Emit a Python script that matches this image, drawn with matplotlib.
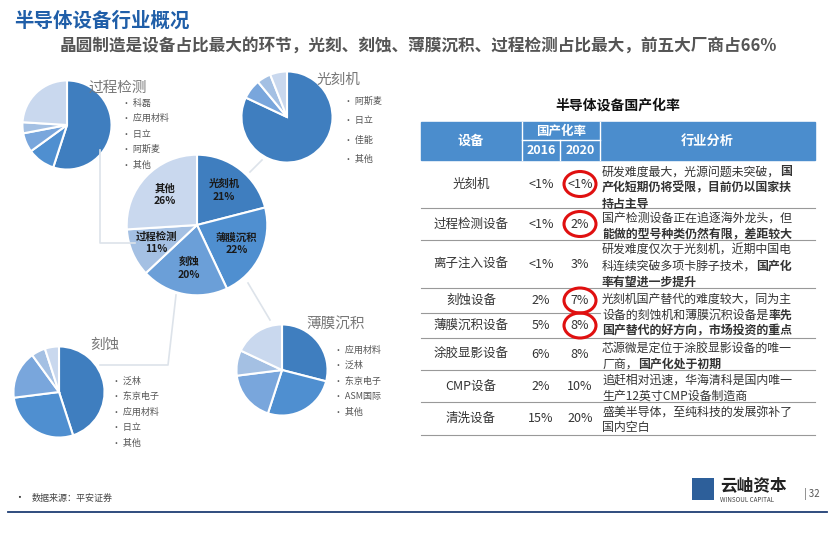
import matplotlib
matplotlib.use("Agg")
import matplotlib.pyplot as plt
from matplotlib.patches import Rectangle, Ellipse
import numpy as np

plt.rcParams['font.family'] = ['Noto Sans CJK SC', 'DejaVu Sans']

W, H = 835, 539
fig = plt.figure(figsize=(W/100, H/100), dpi=100)
bg = fig.add_axes([0, 0, 1, 1])
bg.set_xlim(0, W); bg.set_ylim(H, 0); bg.axis('off')

# ---------- data ----------
main_labels = ['光刻机', '薄膜沉积', '刻蚀', '过程检测', '其他']
main_values = [21, 22, 20, 11, 26]
main_colors = ['#3f7ebf', '#4f8fd0', '#6b9fd8', '#a4c0e3', '#c9d8ee']

sub_colors = ['#3f7ebf', '#4f8fd0', '#79a6dc', '#a4c0e3', '#c9d8ee']
insp_labels = ['科磊', '应用材料', '日立', '阿斯麦', '其他']
insp_values = [55, 10, 7, 4, 24]
litho_labels = ['阿斯麦', '日立', '佳能', '其他']
litho_values = [82, 7, 5, 6]
etch_labels = ['泛林', '东京电子', '应用材料', '日立', '其他']
etch_values = [45, 28, 17, 5, 5]
dep_labels = ['应用材料', '泛林', '东京电子', 'ASM国际', '其他']
dep_values = [29, 26, 18, 9, 18]

tbl_equip = ['光刻机', '过程检测设备', '离子注入设备', '刻蚀设备', '薄膜沉积设备',
             '涂胶显影设备', 'CMP设备', '清洗设备']
rate_2016 = ['<1%', '<1%', '<1%', '2%', '5%', '6%', '2%', '15%']
rate_2020 = ['<1%', '2%', '3%', '7%', '8%', '8%', '10%', '20%']
circled = [0, 1, 3, 4]

# ---------- titles ----------
bg.text(14, 21, '半导体设备行业概况', fontsize=14, fontweight='bold', color='#1f5ea8', va='center')
bg.text(418, 46, '晶圆制造是设备占比最大的环节，光刻、刻蚀、薄膜沉积、过程检测占比最大，前五大厂商占66%',
        fontsize=12, fontweight='bold', color='#555555', va='center', ha='center')

# connectors
cc = '#dde3ea'
bg.plot([100, 100, 135], [150, 243, 243], color=cc, lw=1.2)
bg.plot([250, 262], [172, 160], color=cc, lw=1.2)
bg.plot([176, 168, 100], [295, 365, 365], color=cc, lw=1.2)
bg.plot([248, 270], [283, 320], color=cc, lw=1.2)

def pie_at(cx, cy, r, vals, cols):
    ax = fig.add_axes([(cx-r)/W, 1-(cy+r)/H, 2*r/W, 2*r/H])
    ax.pie(vals, colors=cols, startangle=90, counterclock=False,
           wedgeprops=dict(edgecolor='white', linewidth=1.5))
    ax.set_aspect('auto'); ax.set_xlim(-1.01, 1.01); ax.set_ylim(-1.01, 1.01); ax.axis('off')
    return ax

pie_at(67, 125, 45, insp_values, sub_colors)
pie_at(287, 117, 46, litho_values, [sub_colors[0], sub_colors[2], sub_colors[3], sub_colors[4]])
pie_at(59, 392, 46, etch_values, sub_colors)
pie_at(282, 370, 46, dep_values, sub_colors)
axm = pie_at(197, 225, 71, main_values, main_colors)

ang = 90
for lab, v in zip(main_labels, main_values):
    mid = np.deg2rad(ang - v*3.6/2)
    ang -= v*3.6
    x = 197 + 44*np.cos(mid); y = 225 - 44*np.sin(mid)
    bg.text(x, y, f'{lab}\n{v}%', ha='center', va='center', fontsize=7.5,
            fontweight='bold', color='#1a1a1a', linespacing=1.3, zorder=10)
bg.set_zorder(5); bg.patch.set_alpha(0)

def sub_title(x, y, t):
    bg.text(x, y, t, fontsize=10.5, color='#777777', va='center')

def legend(x, y, labs, step=15.5):
    for i, l in enumerate(labs):
        bg.text(x, y + i*step, '• ' + l, fontsize=6.5, color='#555555', va='center')

sub_title(88, 88, '过程检测'); legend(122, 103, insp_labels)
sub_title(316, 80, '光刻机'); legend(344, 101, litho_labels, 19.5)
sub_title(90, 345, '刻蚀'); legend(112, 381, etch_labels)
sub_title(306, 325, '薄膜沉积'); legend(334, 350, dep_labels)

# ---------- table ----------
bg.text(618, 106, '半导体设备国产化率', fontsize=10, fontweight='bold', ha='center', va='center', color='#111111')
hx0, hx1 = 421, 815
bg.add_patch(Rectangle((hx0, 122), hx1-hx0, 38, color='#4b8dcd', zorder=1))
for xc in [522, 560, 600]:
    bg.plot([xc, xc], [122 if xc != 560 else 140, 160], color='white', lw=1)
bg.plot([522, 600], [140, 140], color='white', lw=1)
bg.text(471, 141, '设备', color='white', fontsize=9.5, ha='center', va='center', fontweight='bold')
bg.text(561, 131, '国产化率', color='white', fontsize=9, ha='center', va='center', fontweight='bold')
bg.text(541, 150, '2016', color='white', fontsize=9, ha='center', va='center', fontweight='bold')
bg.text(580, 150, '2020', color='white', fontsize=9, ha='center', va='center', fontweight='bold')
bg.text(707, 141, '行业分析', color='white', fontsize=9.5, ha='center', va='center', fontweight='bold')

rows = [160, 208, 240, 288, 313, 338, 370, 402, 435]
for i, yb in enumerate(rows[1:]):
    if i == 3:
        bg.plot([421, 600], [yb, yb], color='#999999', lw=0.8)
    else:
        bg.plot([421, 815], [yb, yb], color='#999999', lw=0.8)
for i in range(8):
    yc = (rows[i] + rows[i+1]) / 2
    bg.text(471, yc, tbl_equip[i], fontsize=9, ha='center', va='center', color='#333333')
    bg.text(541, yc, rate_2016[i], fontsize=9, ha='center', va='center', color='#333333')
    bg.text(580, yc, rate_2020[i], fontsize=9, ha='center', va='center', color='#333333')
    if i in circled:
        bg.add_patch(Ellipse((580, yc), 32, 25, fill=False, edgecolor='#e01010', lw=2.2, zorder=12))

analysis = [
    (172, [[('研发难度最大，光源问题未突破，', 0), ('国', 1)],
           [('产化短期仍将受限，目前仍以国家扶', 1)], [('持占主导', 1)]]),
    (218, [[('国产检测设备正在追逐海外龙头，但', 0)], [('能做的型号种类仍然有限，差距较大', 1)]]),
    (250, [[('研发难度仅次于光刻机，近期中国电', 0)], [('科连续突破多项卡脖子技术，', 0), ('国产化', 1)],
           [('率有望进一步提升', 1)]]),
    (299, [[('光刻机国产替代的难度较大，同为主', 0)], [('设备的刻蚀机和薄膜沉积设备是', 0), ('率先', 1)],
           [('国产替代的好方向，市场投资的重点', 1)]]),
    (348, [[('芯源微是定位于涂胶显影设备的唯一', 0)], [('厂商，', 0), ('国产化处于初期', 1)]]),
    (380, [[('追赶相对迅速，华海清科是国内唯一', 0)], [('生产12英寸CMP设备制造商', 0)]]),
    (412, [[('盛美半导体，至纯科技的发展弥补了', 0)], [('国内空白', 0)]]),
]
fig.canvas.draw()
rend = fig.canvas.get_renderer()
inv = bg.transData.inverted()
for y0, lines in analysis:
    for li, segs in enumerate(lines):
        x = 602
        y = y0 + li * 16
        for s, b in segs:
            t = bg.text(x, y, s, fontsize=8.6, va='center', color='#333333',
                        fontweight='bold' if b else 'normal')
            bb = t.get_window_extent(rend)
            x = inv.transform((bb.x1, bb.y0))[0]

# ---------- footer ----------
bg.text(14, 498, '•', fontsize=7, va='center', color='#333333')
bg.text(32, 498, '数据来源：平安证券', fontsize=6.5, va='center', color='#444444')
bg.plot([8, 827], [512, 512], color='#1f3e74', lw=1.3)
bg.add_patch(Rectangle((692, 478), 22, 22, facecolor='#2d5f9a', edgecolor='none'))
bg.text(720, 485, '云岫资本', fontsize=12, fontweight='bold', va='center', color='#222222')
bg.text(720, 500, 'WINSOUL CAPITAL', fontsize=4.5, va='center', color='#444444')
bg.text(804, 494, '| 32', fontsize=7, va='center', color='#555555')

fig.savefig('out.png', dpi=100)
